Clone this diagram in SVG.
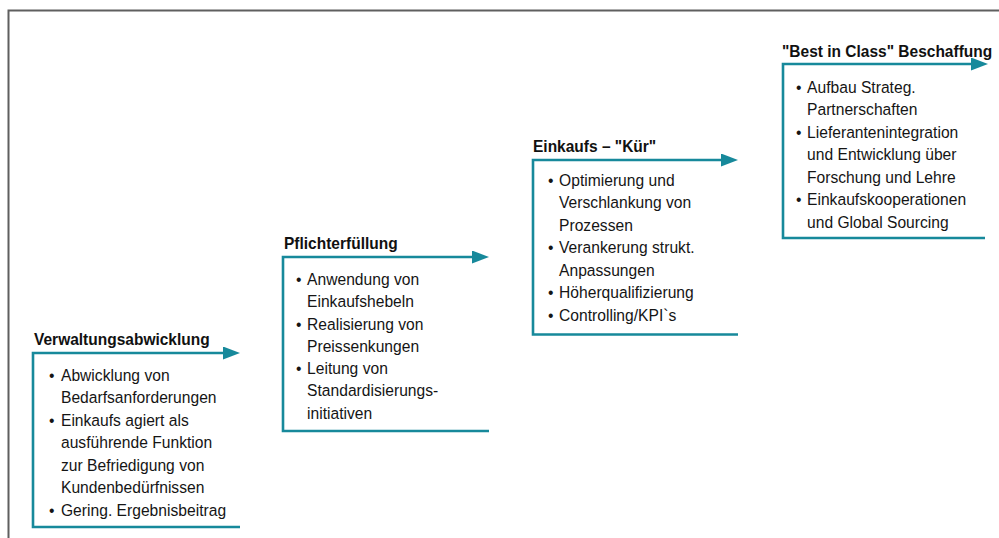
<svg xmlns="http://www.w3.org/2000/svg" width="999" height="538" viewBox="0 0 999 538">
<style>
.frame{fill:none;stroke:#5f5f5f;stroke-width:2}
.box{fill:none;stroke:#17899b;stroke-width:2.6;marker-end:url(#ah)}
.title{font-family:"Liberation Sans",Arial,sans-serif;font-weight:bold;font-size:16.5px;fill:#111}
.body{font-family:"Liberation Sans",Arial,sans-serif;font-size:17px;fill:#151515}
</style>
<defs>
<marker id="ah" markerUnits="userSpaceOnUse" viewBox="0 0 17 13" refX="7" refY="6.5" markerWidth="17" markerHeight="13" orient="auto">
<path d="M0,0 L17,6.5 L0,13 Z" fill="#17899b"/>
</marker>
</defs>
<rect width="999" height="538" fill="#ffffff"/>
<path class="frame" d="M8.5,538 V10.5 H999"/>
<g id="connectors">
</g>
<g id="stage1">
<path class="box" d="M240,527 H33 V353 H230"/>
<text class="title" transform="translate(34,0) scale(0.94,1)" x="0" y="345">Verwaltungsabwicklung</text>
<g transform="translate(49,0) scale(0.92,1)">
<text class="body" x="0" y="381">•</text>
<text class="body" x="13" y="381">Abwicklung von</text>
<text class="body" x="13" y="403.5">Bedarfsanforderungen</text>
<text class="body" x="0" y="426">•</text>
<text class="body" x="13" y="426">Einkaufs agiert als</text>
<text class="body" x="13" y="448.5">ausführende Funktion</text>
<text class="body" x="13" y="471">zur Befriedigung von</text>
<text class="body" x="13" y="493.5">Kundenbedürfnissen</text>
<text class="body" x="0" y="516">•</text>
<text class="body" x="13" y="516">Gering. Ergebnisbeitrag</text>
</g>
</g>
<g id="stage2">
<path class="box" d="M489,431 H283 V257 H479"/>
<text class="title" transform="translate(284,0) scale(0.94,1)" x="0" y="249">Pflichterfüllung</text>
<g transform="translate(296,0) scale(0.92,1)">
<text class="body" x="0" y="285">•</text>
<text class="body" x="12" y="285">Anwendung von</text>
<text class="body" x="12" y="307.3">Einkaufshebeln</text>
<text class="body" x="0" y="329.6">•</text>
<text class="body" x="12" y="329.6">Realisierung von</text>
<text class="body" x="12" y="351.9">Preissenkungen</text>
<text class="body" x="0" y="374.2">•</text>
<text class="body" x="12" y="374.2">Leitung von</text>
<text class="body" x="12" y="396.5">Standardisierungs-</text>
<text class="body" x="12" y="418.8">initiativen</text>
</g>
</g>
<g id="stage3">
<path class="box" d="M738,334.5 H533 V160 H728"/>
<text class="title" transform="translate(533,0) scale(0.94,1)" x="0" y="152">Einkaufs – "Kür"</text>
<g transform="translate(548,0) scale(0.92,1)">
<text class="body" x="0" y="186">•</text>
<text class="body" x="12" y="186">Optimierung und</text>
<text class="body" x="12" y="208.5">Verschlankung von</text>
<text class="body" x="12" y="231">Prozessen</text>
<text class="body" x="0" y="253.5">•</text>
<text class="body" x="12" y="253.5">Verankerung strukt.</text>
<text class="body" x="12" y="276">Anpassungen</text>
<text class="body" x="0" y="298.5">•</text>
<text class="body" x="12" y="298.5">Höherqualifizierung</text>
<text class="body" x="0" y="321">•</text>
<text class="body" x="12" y="321">Controlling/KPI`s</text>
</g>
</g>
<g id="stage4">
<path class="box" d="M985,238 H783 V64 H978"/>
<text class="title" transform="translate(782,0) scale(0.94,1)" x="0" y="57">"Best in Class" Beschaffung</text>
<g transform="translate(796,0) scale(0.92,1)">
<text class="body" x="0" y="93">•</text>
<text class="body" x="12" y="93">Aufbau Strateg.</text>
<text class="body" x="12" y="115.5">Partnerschaften</text>
<text class="body" x="0" y="138">•</text>
<text class="body" x="12" y="138">Lieferantenintegration</text>
<text class="body" x="12" y="160.5">und Entwicklung über</text>
<text class="body" x="12" y="183">Forschung und Lehre</text>
<text class="body" x="0" y="205.5">•</text>
<text class="body" x="12" y="205.5">Einkaufskooperationen</text>
<text class="body" x="12" y="228">und Global Sourcing</text>
</g>
</g>
</svg>
